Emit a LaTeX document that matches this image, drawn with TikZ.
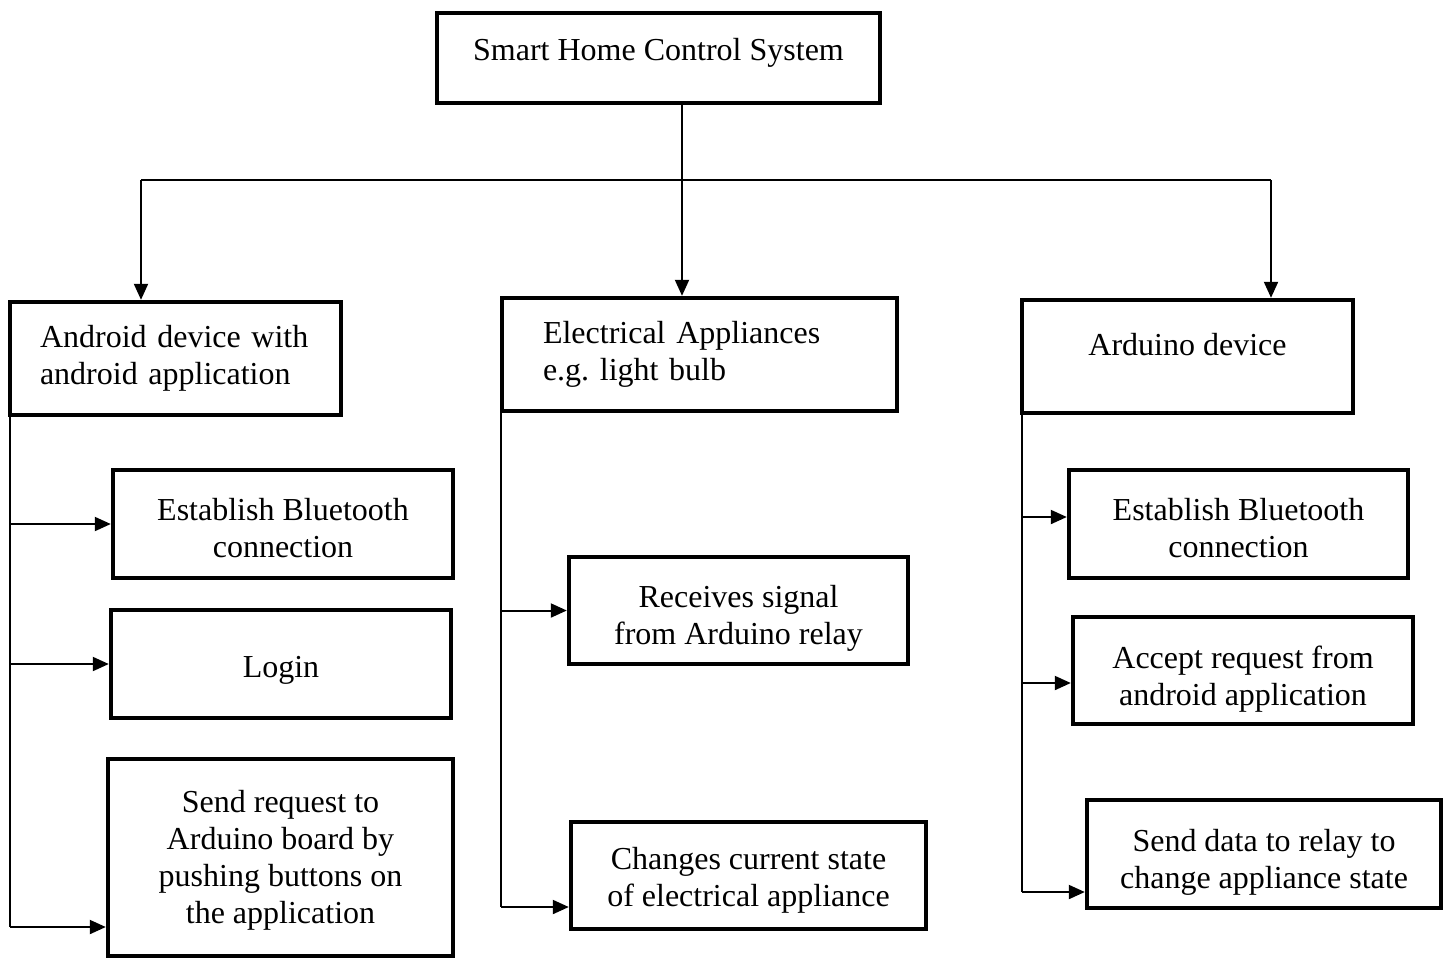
\documentclass[tikz,border=0pt]{standalone}
\usepackage{fontspec}
\setmainfont{Liberation Serif}
\frenchspacing
\usetikzlibrary{arrows.meta,positioning,calc}
\newcommand{\px}{0.5pt}
% zero-width strut that pushes a box's text down
\newcommand{\shcdrop}[1]{\rule{0pt}{#1}}
\tikzset{
  shc/box/.style={
    draw=black,
    line width=2.2pt,
    fill=white,
    align=center,
    inner sep=0pt,
    font=\fontsize{16}{18.5}\selectfont
  },
  shc/lift/.style={execute at end node={\rule[-#1]{0pt}{#1}}},
  shc/line/.style={line width=1pt, draw=black},
  shc/arrow/.style={-{Triangle[length=8pt,width=7pt]}, line width=1pt, draw=black}
}

\begin{document}
\begin{tikzpicture}[x=0.5pt,y=-0.5pt]
  \useasboundingbox (0,0) rectangle (1443,960);
  % top level
  \node[shc/box,shc/lift=8.5pt,minimum width=443*\px,minimum height=90*\px] (shcs) at (658.5,58) {Smart Home Control System};
  % second level
  \node[shc/box,minimum width=331*\px,minimum height=113*\px,text width=271*\px,align=left] (andr) at (175.5,358.5) {Android device with\\android application};
  \node[shc/box,minimum width=395*\px,minimum height=113*\px,text width=313*\px,align=left] (elec) at (699.5,354.5) {Electrical Appliances\\e.g. light bulb};
  \node[shc/box,shc/lift=12pt,minimum width=331*\px,minimum height=113*\px] (ardu) at (1187.5,356.5) {Arduino device};
  % android tasks
  \node[shc/box,minimum width=340*\px,minimum height=108*\px] (btand) at (283,524) {\shcdrop{15pt}Establish Bluetooth\\connection};
  \node[shc/box,minimum width=340*\px,minimum height=108*\px] (login) at (281,664) {\shcdrop{17pt}Login};
  \node[shc/box,minimum width=345*\px,minimum height=197*\px] (sendreq) at (280.5,857.5) {\shcdrop{14pt}Send request to\\Arduino board by\\pushing buttons on\\the application};
  % appliance tasks
  \node[shc/box,minimum width=339*\px,minimum height=107*\px] (recv) at (738.5,610.5) {\shcdrop{19pt}Receives signal\\from Arduino relay};
  \node[shc/box,minimum width=355*\px,minimum height=107*\px] (chg) at (748.5,875.5) {\shcdrop{16pt}Changes current state\\of electrical appliance};
  % arduino tasks
  \node[shc/box,minimum width=339*\px,minimum height=108*\px] (btard) at (1238.5,524) {\shcdrop{15pt}Establish Bluetooth\\connection};
  \node[shc/box,minimum width=340*\px,minimum height=107*\px] (accept) at (1243,670.5) {\shcdrop{20pt}Accept request from\\android application};
  \node[shc/box,minimum width=354*\px,minimum height=108*\px] (senddata) at (1264,854) {\shcdrop{19pt}Send data to relay to\\change appliance state};

  % tree from the top box
  \coordinate (split) at (682,180);
  \coordinate (hl) at (141,180);
  \coordinate (hr) at (1271,180);
  \draw[shc/line] (shcs.south -| split) -- (split);
  \draw[shc/line] (hl) -- (hr);
  \draw[shc/arrow] (hl) -- (hl |- andr.north);
  \draw[shc/arrow] (split) -- (split |- elec.north);
  \draw[shc/arrow] (hr) -- (hr |- ardu.north);

  % android branch
  \coordinate (lt) at (10,927);
  \draw[shc/line] (andr.south -| lt) -- (lt);
  \draw[shc/arrow] (btand.west -| lt) -- (btand.west);
  \draw[shc/arrow] (login.west -| lt) -- (login.west);
  \draw[shc/arrow] (lt) -- (lt -| sendreq.west);

  % appliance branch
  \coordinate (mt) at (501,907);
  \draw[shc/line] (elec.south -| mt) -- (mt);
  \draw[shc/arrow] (recv.west -| mt) -- (recv.west);
  \draw[shc/arrow] (mt) -- (mt -| chg.west);

  % arduino branch
  \coordinate (r1) at (1022,517);
  \coordinate (r2) at (1022,683);
  \coordinate (rt) at (1022,892);
  \draw[shc/line] (ardu.south -| rt) -- (rt);
  \draw[shc/arrow] (r1) -- (r1 -| btard.west);
  \draw[shc/arrow] (r2) -- (r2 -| accept.west);
  \draw[shc/arrow] (rt) -- (rt -| senddata.west);
\end{tikzpicture}
\end{document}
